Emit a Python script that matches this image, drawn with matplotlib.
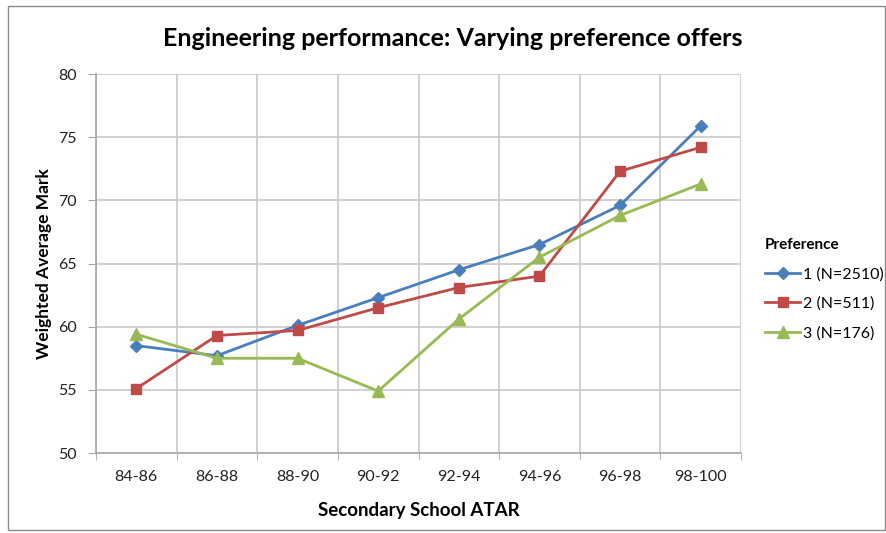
import matplotlib
matplotlib.use("Agg")
import matplotlib.pyplot as plt
from matplotlib.patches import Rectangle
from matplotlib.ticker import FixedLocator

plt.rcParams['font.family'] = ['Lato', 'DejaVu Sans']

categories = ["84-86", "86-88", "88-90", "90-92", "92-94", "94-96", "96-98", "98-100"]
pref1 = [58.5, 57.7, 60.1, 62.3, 64.5, 66.5, 69.6, 75.9]
pref2 = [55.1, 59.3, 59.7, 61.5, 63.1, 64.0, 72.3, 74.2]
pref3 = [59.4, 57.5, 57.5, 54.9, 60.6, 65.5, 68.8, 71.3]
series_labels = ["1 (N=2510)", "2 (N=511)", "3 (N=176)"]
yticks = [50, 55, 60, 65, 70, 75, 80]

W, H = 886, 533
fig = plt.figure(figsize=(W / 100, H / 100), dpi=100)
fig.patch.set_facecolor("white")

# chart border
fig.patches.append(Rectangle((8 / W, 1 - 530 / H), 877 / W, (530 - 6) / H,
                             transform=fig.transFigure, fill=False,
                             edgecolor="#8c8c8c", linewidth=1.0))

left, right, top, bottom = 96, 741, 74, 453
ax = fig.add_axes([left / W, 1 - bottom / H, (right - left) / W, (bottom - top) / H])

x = list(range(len(categories)))
ax.plot(x, pref1, color="#4A7EBB", lw=2, marker="D", ms=6, label=series_labels[0], zorder=3)
ax.plot(x, pref2, color="#BE4B48", lw=2, marker="s", ms=7, label=series_labels[1], zorder=3)
ax.plot(x, pref3, color="#98B954", lw=2, marker="^", ms=8, label=series_labels[2], zorder=3)

ax.set_xlim(-0.5, len(categories) - 0.5)
ax.set_ylim(50, 80)
ax.set_yticks(yticks)
ax.set_xticks(x)
ax.set_xticklabels(categories)
ax.xaxis.set_minor_locator(FixedLocator([i - 0.5 for i in range(len(categories) + 1)]))
ax.tick_params(axis="x", which="major", length=0, pad=12, labelsize=11.5, labelcolor="#222222")
ax.tick_params(axis="x", which="minor", length=5, color="#a6a6a6", direction="out")
ax.tick_params(axis="y", length=6, color="#a6a6a6", direction="out", labelsize=11.5,
               labelcolor="#222222", pad=8)

ax.grid(True, axis="y", which="major", color="#c8c8c8", lw=1.2)
ax.grid(True, axis="x", which="minor", color="#c8c8c8", lw=1.2)
ax.set_axisbelow(True)
for s in ["top", "right"]:
    ax.spines[s].set_visible(False)
for s in ["left", "bottom"]:
    ax.spines[s].set_color("#a6a6a6")
    ax.spines[s].set_linewidth(1.2)

ax.set_xlabel("Secondary School ATAR", fontsize=13.5, fontweight="bold", labelpad=13)
ax.set_ylabel("Weighted Average Mark", fontsize=12.5, fontweight="bold", labelpad=4)
fig.text(453 / W, 1 - 38 / H, "Engineering performance: Varying preference offers",
         ha="center", va="center", fontsize=18, fontweight="bold")

leg = ax.legend(loc="upper left", bbox_to_anchor=(757 / W, 1 - 230 / H),
                bbox_transform=fig.transFigure, frameon=False, title="Preference",
                fontsize=11.5, handlelength=2.2, handletextpad=0.2, labelspacing=0.95,
                borderpad=0)
leg.get_title().set_fontweight("bold")
leg.get_title().set_fontsize(11)
leg._legend_box.align = "left"

fig.savefig("out.png", dpi=100, facecolor="white")
